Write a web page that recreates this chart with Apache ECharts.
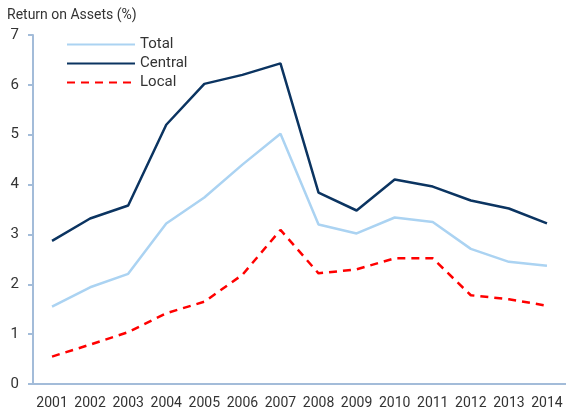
<!DOCTYPE html>
<html><head><meta charset="utf-8">
<script src="https://cdn.jsdelivr.net/npm/echarts@6/dist/echarts.min.js"></script>
<style>html,body{margin:0;padding:0;background:#fff}#c{width:566px;height:415px}</style>
</head><body><div id="c"></div>
<script>
const years = ['2001','2002','2003','2004','2005','2006','2007','2008','2009','2010','2011','2012','2013','2014'];
const total = [1.55,1.94,2.21,3.22,3.74,4.40,5.02,3.20,3.02,3.34,3.25,2.71,2.45,2.37];
const central = [2.87,3.32,3.58,5.20,6.02,6.20,6.43,3.84,3.48,4.10,3.96,3.68,3.52,3.22];
const local = [0.55,0.79,1.04,1.42,1.65,2.19,3.09,2.22,2.30,2.52,2.52,1.78,1.70,1.57];
const yTicks = [0,1,2,3,4,5,6,7];
const FONT = '"Roboto", "Liberation Sans", sans-serif';
const chart = echarts.init(document.getElementById('c'), null, {renderer:'canvas'});
chart.setOption({
  animation:false,
  textStyle:{fontFamily:FONT},
  title:{text:'Return on Assets (%)', left:2, top:3, textStyle:{fontFamily:FONT, fontSize:14, fontWeight:'normal', color:'#333'}},
  legend:{orient:'vertical', left:61, top:32, itemWidth:68, itemHeight:14, itemGap:4,
    itemStyle:{opacity:0},
    textStyle:{fontFamily:FONT, fontSize:15, color:'#333'},
    data:['Total','Central','Local']},
  grid:{left:33, top:35, width:538, bottom:31, containLabel:false},
  xAxis:{type:'category', data:years, boundaryGap:true,
    axisLine:{lineStyle:{color:'#a3bcd9', width:2}}, axisTick:{show:false},
    axisLabel:{fontFamily:FONT, fontSize:14, color:'#333', margin:12, interval:0}},
  yAxis:{type:'value', min:yTicks[0], max:yTicks[yTicks.length-1], interval:1,
    axisLine:{show:true, lineStyle:{color:'#a3bcd9', width:2}},
    axisTick:{show:true, length:5, lineStyle:{color:'#a3bcd9', width:2}},
    splitLine:{show:false},
    axisLabel:{fontFamily:FONT, fontSize:15, color:'#333', margin:14}},
  series:[
    {name:'Total', type:'line', data:total, symbol:'none', lineStyle:{color:'#abd3f2', width:2.5}, itemStyle:{color:'#abd3f2'}},
    {name:'Central', type:'line', data:central, symbol:'none', lineStyle:{color:'#0b3461', width:2.5}, itemStyle:{color:'#0b3461'}},
    {name:'Local', type:'line', data:local, symbol:'none', lineStyle:{color:'#ff0000', width:2.5, type:[8,6]}, itemStyle:{color:'#ff0000'}}
  ]
});
</script></body></html>
